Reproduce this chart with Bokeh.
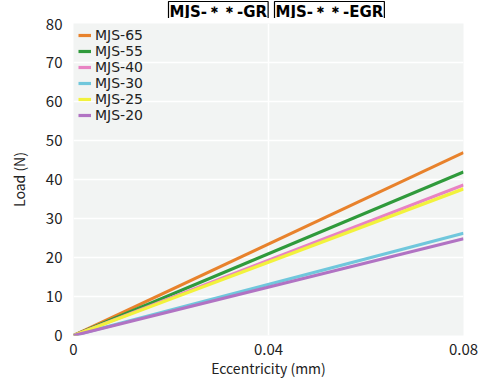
from bokeh.plotting import figure
from bokeh.layouts import column
from bokeh.models import Label, Legend, LegendItem, FixedTicker, ColumnDataSource
from bokeh.embed import file_html
from bokeh.resources import INLINE

# Data
ecc = [0.0, 0.08]
series_names = ["MJS-65", "MJS-55", "MJS-40", "MJS-30", "MJS-25", "MJS-20"]
load_end = [46.9, 41.9, 38.6, 26.2, 37.6, 24.8]
colors = ["#e8822c", "#2f9a3b", "#e883c3", "#70c7dc", "#f2f23c", "#b173c3"]
x_ticks = [0, 0.04, 0.08]
x_tick_labels = {0: "0", 0.04: "0.04", 0.08: "0.08"}
y_ticks = [0, 10, 20, 30, 40, 50, 60, 70, 80]
titles = ["MJS-\uff0a\uff0a-GR", "MJS-\uff0a\uff0a-EGR"]

FONT = "Noto Sans CJK JP"
W = 479
TITLE_H = 18
MAIN_H = 362

# --- header strip holding the two boxed titles ---
head = figure(width=W, height=TITLE_H, output_backend="svg", toolbar_location=None,
              x_axis_type=None, y_axis_type=None, x_range=(0, 1), y_range=(0, 1),
              min_border_left=0, min_border_right=0, min_border_top=0, min_border_bottom=0)
head.grid.visible = False
head.outline_line_color = None
head.background_fill_color = "white"
head.border_fill_color = "white"
tx = [168, 274]
for t, x0 in zip(titles, tx):
    lab = Label(x=x0, y=1, x_units="canvas", y_units="canvas", text=t,
                text_baseline="top",
                text_font="DejaVu Sans", text_font_size="15px", text_font_style="bold",
                text_color="black", border_line_color="black", border_line_width=1.2,
                background_fill_color="white", padding=1)
    head.add_layout(lab)

# --- main chart ---
p = figure(width=W, height=MAIN_H, output_backend="svg", toolbar_location=None,
           x_range=(x_ticks[0], x_ticks[-1]), y_range=(y_ticks[0], y_ticks[-1]),
           min_border_left=73, min_border_right=16, min_border_top=5, min_border_bottom=42)
p.background_fill_color = "#f2f4f3"
p.border_fill_color = "white"
p.outline_line_color = None

p.xgrid.grid_line_color = "white"
p.ygrid.grid_line_color = "white"
p.xgrid.grid_line_width = 1.5
p.ygrid.grid_line_width = 1.5

p.xaxis.ticker = FixedTicker(ticks=x_ticks)
p.xaxis.major_label_overrides = x_tick_labels
p.yaxis.ticker = FixedTicker(ticks=y_ticks)
for ax in (p.xaxis, p.yaxis):
    ax.axis_line_color = None
    ax.major_tick_line_color = None
    ax.minor_tick_line_color = None
    ax.major_label_text_font = FONT
    ax.major_label_text_font_size = "15px"
    ax.major_label_text_color = "#222222"
    ax.axis_label_text_font = FONT
    ax.axis_label_text_font_size = "14px"
    ax.axis_label_text_font_style = "normal"
    ax.axis_label_text_color = "#222222"
p.xaxis.axis_label = "Eccentricity (mm)"
p.yaxis.axis_label = "Load (N)"
p.xaxis.major_label_standoff = 2
p.yaxis.major_label_standoff = 5
p.xaxis.axis_label_standoff = 0
p.yaxis.axis_label_standoff = 14

items = []
for name, end, c in zip(series_names, load_end, colors):
    src = ColumnDataSource(dict(x=ecc, y=[0.0, end]))
    r = p.line("x", "y", source=src, line_color=c, line_width=3.2)
    items.append(LegendItem(label=name, renderers=[r]))

legend = Legend(items=items, location=(5, 212), border_line_color=None,
                background_fill_alpha=0, margin=0, padding=4, spacing=0,
                glyph_width=13, glyph_height=16, label_height=16, label_standoff=4,
                label_text_font="DejaVu Sans", label_text_font_size="14px",
                label_text_color="#222222")
p.add_layout(legend)

layout = column(head, p, spacing=0)

html = file_html(layout, INLINE)
html = html.replace("<body>", "<body style=\"margin:0\">", 1)
open("out.html", "w").write(html)
